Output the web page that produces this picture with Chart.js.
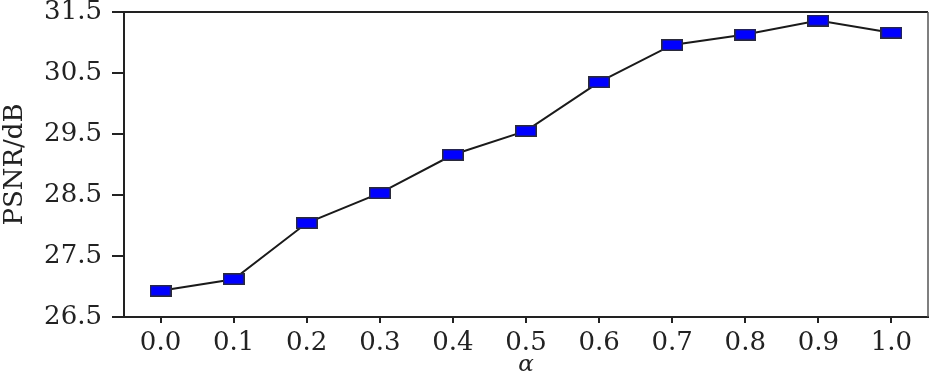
<!DOCTYPE html>
<html>
<head>
<meta charset="utf-8">
<script src="https://cdn.jsdelivr.net/npm/chart.js@4.4.0/dist/chart.umd.min.js"></script>
<style>
  html, body { margin: 0; padding: 0; background: #fff; }
  #wrap { width: 930px; height: 380px; position: relative; }
</style>
</head>
<body>
<div id="wrap"><canvas id="c" width="930" height="380"></canvas></div>
<script>
const categories = ["0.0", "0.1", "0.2", "0.3", "0.4", "0.5", "0.6", "0.7", "0.8", "0.9", "1.0"];
const psnrValues = [26.93, 27.12, 28.04, 28.53, 29.16, 29.55, 30.35, 30.96, 31.13, 31.36, 31.16];
const yTickValues = [26.5, 27.5, 28.5, 29.5, 30.5, 31.5];
const yTitle = "PSNR/dB";
const xTitle = "α";

const FONT = "'DejaVu Serif', 'Liberation Serif', serif";

// rectangular marker
const marker = document.createElement('canvas');
marker.width = 22; marker.height = 12;
(function () {
  const g = marker.getContext('2d');
  g.fillStyle = '#0000ff';
  g.fillRect(0, 0, 22, 12);
  g.strokeStyle = '#2a2a3a';
  g.lineWidth = 1.5;
  g.strokeRect(0.75, 0.75, 20.5, 10.5);
})();

const framePlugin = {
  id: 'frame',
  afterDatasetsDraw(chart) {
    const a = chart.chartArea, ctx = chart.ctx;
    ctx.save();
    ctx.strokeStyle = '#222';
    ctx.lineWidth = 2;
    ctx.beginPath();
    ctx.moveTo(a.left, a.top);
    ctx.lineTo(a.right, a.top);
    ctx.stroke();
    ctx.strokeStyle = '#555';
    ctx.lineWidth = 1.5;
    ctx.beginPath();
    ctx.moveTo(a.right, a.top);
    ctx.lineTo(a.right, a.bottom);
    ctx.stroke();
    ctx.restore();
  }
};

new Chart(document.getElementById('c'), {
  type: 'line',
  data: {
    labels: categories,
    datasets: [{
      data: psnrValues,
      borderColor: '#1a1a1a',
      borderWidth: 2,
      pointStyle: marker,
      pointRadius: 11,
      fill: false,
      tension: 0,
      clip: false
    }]
  },
  options: {
    responsive: false,
    animation: false,
    devicePixelRatio: 1,
    layout: { autoPadding: false, padding: { top: 12, right: 2, left: 0, bottom: 0 } },
    plugins: { legend: { display: false }, tooltip: { enabled: false } },
    scales: {
      x: {
        type: 'category',
        offset: true,
        grid: { drawOnChartArea: false, drawTicks: true, tickLength: 6, color: '#222', lineWidth: 2, offset: false },
        border: { display: true, color: '#222', width: 2 },
        ticks: { color: '#222', font: { family: FONT, size: 26 }, padding: 5, maxRotation: 0, autoSkip: false },
        title: { display: true, text: xTitle, color: '#222', font: { family: FONT, size: 23, style: 'italic' }, padding: { top: 0, bottom: 1 } },
        afterFit(scale) {
          scale.height = 380 - 317;
          scale.paddingLeft = 0; scale.paddingRight = 0;
        }
      },
      y: {
        type: 'linear',
        min: 26.5,
        max: 31.5,
        afterBuildTicks(scale) { scale.ticks = yTickValues.map(v => ({ value: v })); },
        grid: { drawOnChartArea: false, drawTicks: true, tickLength: 12, color: '#222', lineWidth: 2 },
        border: { display: true, color: '#222', width: 2 },
        ticks: { color: '#222', font: { family: FONT, size: 26 }, padding: 10, callback: v => Number(v).toFixed(1) },
        title: { display: true, text: yTitle, color: '#222', font: { family: FONT, size: 26 }, padding: { top: 0, bottom: 0 } },
        afterFit(scale) {
          scale.width = 124;
          scale.paddingTop = 0; scale.paddingBottom = 0;
        }
      }
    }
  },
  plugins: [framePlugin]
});
</script>
</body>
</html>
